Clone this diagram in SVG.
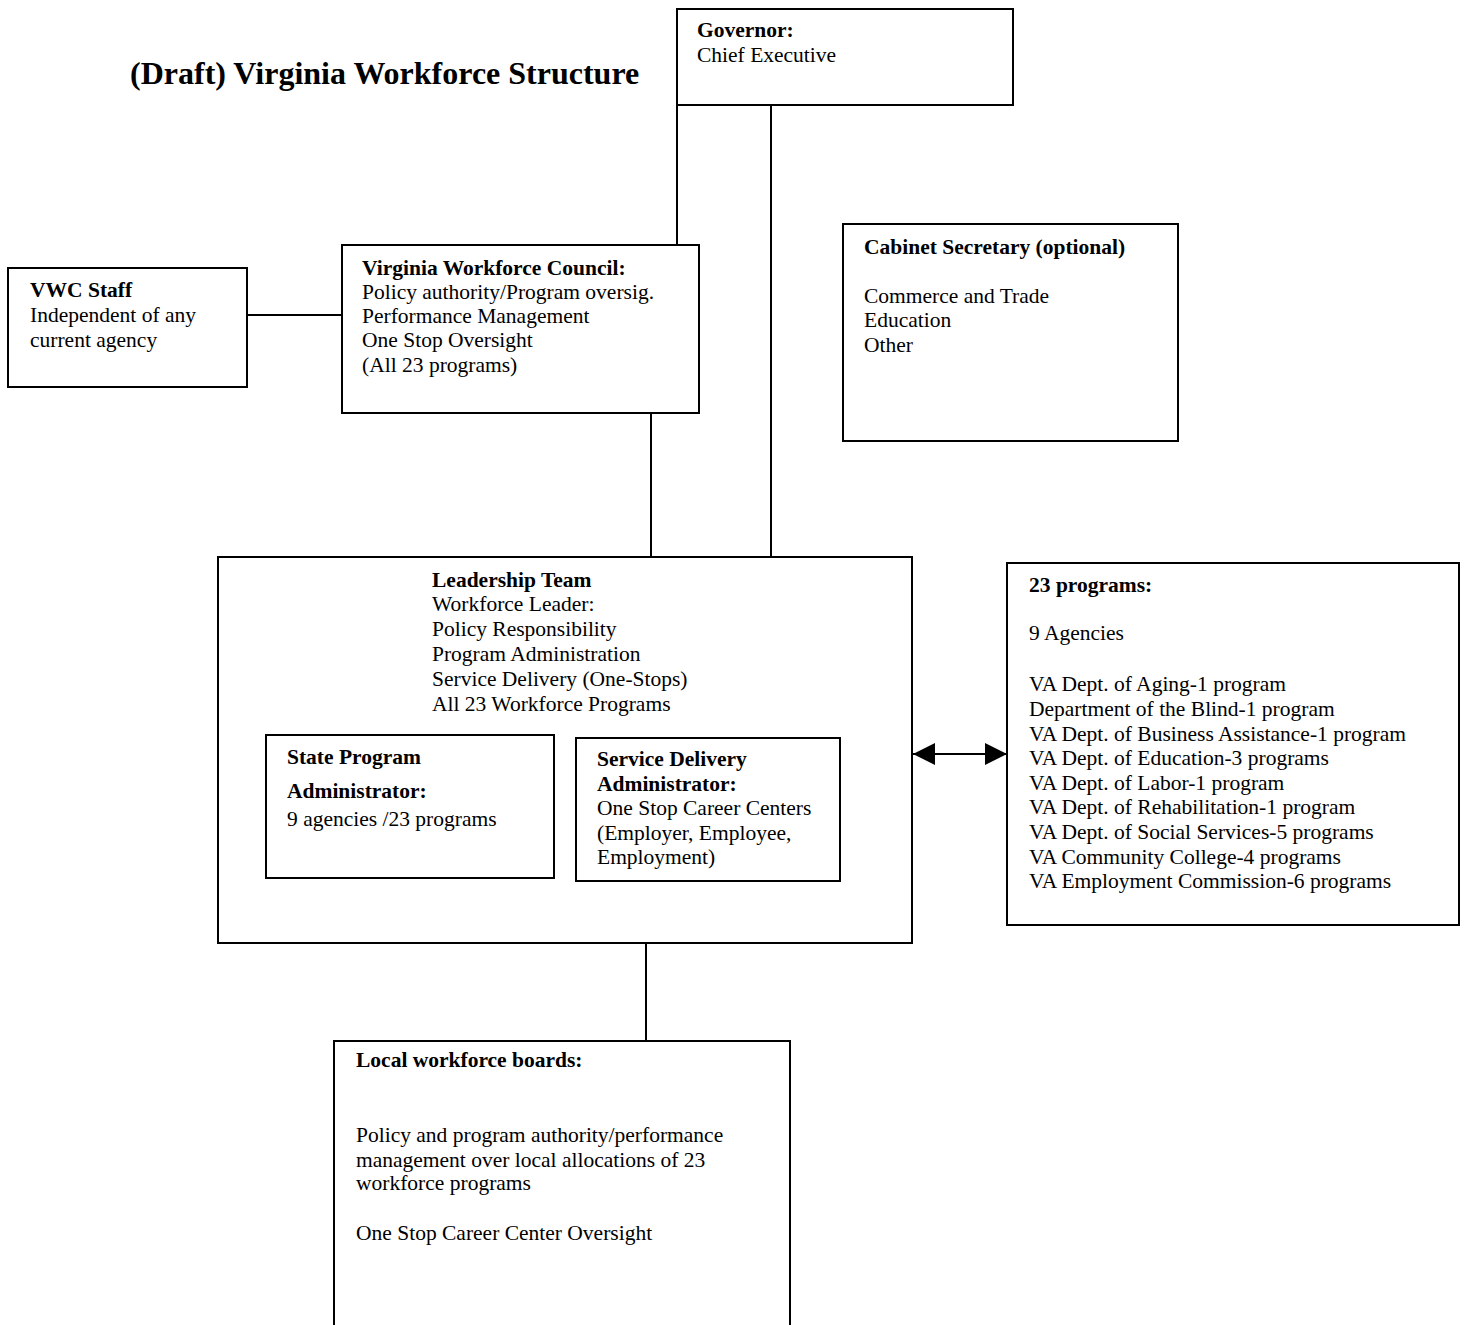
<svg xmlns="http://www.w3.org/2000/svg" width="1472" height="1325" viewBox="0 0 1472 1325">
<defs>
<style>
.box{fill:#fff;stroke:#000;stroke-width:2}
.ln{stroke:#000;stroke-width:2;fill:none}
text{font-family:"Liberation Serif","Times New Roman",serif;font-size:21.5px;fill:#000}
.b{font-weight:bold}
.title{font-size:32px;font-weight:bold}
</style>
<marker id="ah" viewBox="0 0 10 10" refX="10" refY="5" markerWidth="22" markerHeight="22" markerUnits="userSpaceOnUse" orient="auto-start-reverse">
<path d="M0,0 L10,5 L0,10 z" fill="#000"/>
</marker>
</defs>
<rect width="1472" height="1325" fill="#fff"/>
<text class="title" x="130" y="84">(Draft) Virginia Workforce Structure</text>

<g id="connectors">
<line class="ln" x1="677" y1="105" x2="677" y2="245"/>
<line class="ln" x1="771" y1="105" x2="771" y2="558"/>
<line class="ln" x1="651" y1="413" x2="651" y2="556"/>
<line class="ln" x1="247" y1="315" x2="342" y2="315"/>
<line class="ln" x1="646" y1="944" x2="646" y2="1041"/>
<line class="ln" x1="913" y1="754" x2="1007" y2="754" marker-start="url(#ah)" marker-end="url(#ah)"/>
</g>

<g id="governor">
<rect class="box" x="677" y="9" width="336" height="96"/>
<text class="b" x="697" y="37">Governor:</text>
<text x="697" y="62">Chief Executive</text>
</g>

<g id="council">
<rect class="box" x="342" y="245" width="357" height="168"/>
<text class="b" x="362" y="275">Virginia Workforce Council:</text>
<text x="362" y="299">Policy authority/Program oversig.</text>
<text x="362" y="323">Performance Management</text>
<text x="362" y="347">One Stop Oversight</text>
<text x="362" y="372">(All 23 programs)</text>
</g>

<g id="vwc-staff">
<rect class="box" x="8" y="268" width="239" height="119"/>
<text class="b" x="30" y="297">VWC Staff</text>
<text x="30" y="322">Independent of any</text>
<text x="30" y="347">current agency</text>
</g>

<g id="cabinet">
<rect class="box" x="843" y="224" width="335" height="217"/>
<text class="b" x="864" y="254">Cabinet Secretary (optional)</text>
<text x="864" y="303">Commerce and Trade</text>
<text x="864" y="327">Education</text>
<text x="864" y="352">Other</text>
</g>

<g id="leadership">
<rect class="box" x="218" y="557" width="694" height="386"/>
<text class="b" x="432" y="587">Leadership Team</text>
<text x="432" y="611">Workforce Leader:</text>
<text x="432" y="636">Policy Responsibility</text>
<text x="432" y="661">Program Administration</text>
<text x="432" y="686">Service Delivery (One-Stops)</text>
<text x="432" y="711">All 23 Workforce Programs</text>
</g>

<g id="state-program">
<rect class="box" x="266" y="735" width="288" height="143"/>
<text class="b" x="287" y="764">State Program</text>
<text class="b" x="287" y="798">Administrator:</text>
<text x="287" y="826">9 agencies /23 programs</text>
</g>

<g id="service-delivery">
<rect class="box" x="576" y="738" width="264" height="143"/>
<text class="b" x="597" y="766">Service Delivery</text>
<text class="b" x="597" y="791">Administrator:</text>
<text x="597" y="815">One Stop Career Centers</text>
<text x="597" y="840">(Employer, Employee,</text>
<text x="597" y="864">Employment)</text>
</g>

<g id="programs">
<rect class="box" x="1007" y="563" width="452" height="362"/>
<text class="b" x="1029" y="592">23 programs:</text>
<text x="1029" y="640">9 Agencies</text>
<text x="1029" y="691">VA Dept. of Aging-1 program</text>
<text x="1029" y="716">Department of the Blind-1 program</text>
<text x="1029" y="741">VA Dept. of Business Assistance-1 program</text>
<text x="1029" y="765">VA Dept. of Education-3 programs</text>
<text x="1029" y="790">VA Dept. of Labor-1 program</text>
<text x="1029" y="814">VA Dept. of Rehabilitation-1 program</text>
<text x="1029" y="839">VA Dept. of Social Services-5 programs</text>
<text x="1029" y="864">VA Community College-4 programs</text>
<text x="1029" y="888">VA Employment Commission-6 programs</text>
</g>

<g id="local-boards">
<rect class="box" x="334" y="1041" width="456" height="290"/>
<text class="b" x="356" y="1067">Local workforce boards:</text>
<text x="356" y="1142">Policy and program authority/performance</text>
<text x="356" y="1167">management over local allocations of 23</text>
<text x="356" y="1190">workforce programs</text>
<text x="356" y="1240">One Stop Career Center Oversight</text>
</g>
</svg>
